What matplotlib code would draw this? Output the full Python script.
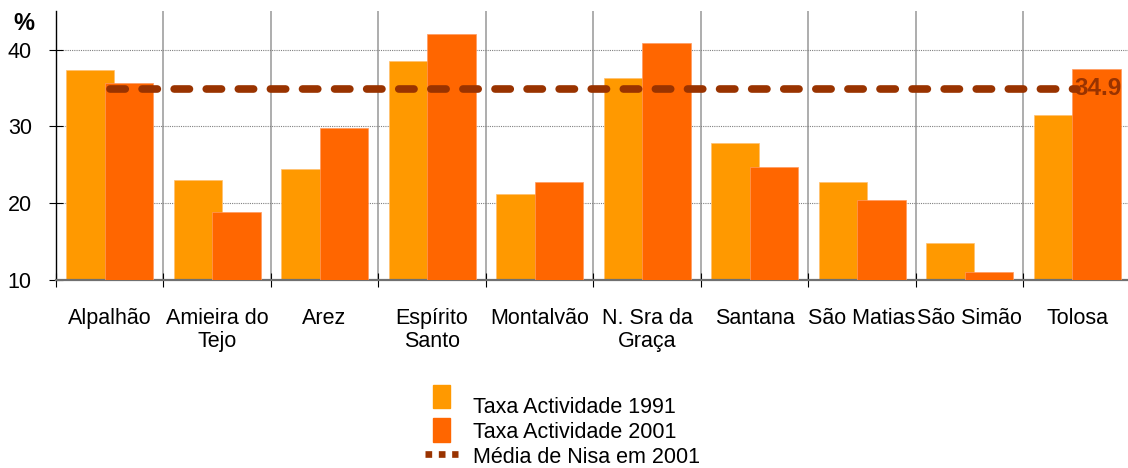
import matplotlib
matplotlib.use("Agg")
import matplotlib.pyplot as plt
from matplotlib.patches import Patch, Rectangle
from matplotlib.lines import Line2D
from matplotlib.legend_handler import HandlerPatch
import numpy as np

categories = ["Alpalhão", "Amieira do\nTejo", "Arez", "Espírito\nSanto", "Montalvão",
              "N. Sra da\nGraça", "Santana", "São Matias", "São Simão", "Tolosa"]
taxa_1991 = [37.3, 23.0, 24.4, 38.5, 21.2, 36.3, 27.8, 22.8, 14.8, 31.5]
taxa_2001 = [35.6, 18.8, 29.8, 42.0, 22.8, 40.9, 24.7, 20.4, 11.0, 37.5]
media_nisa = 34.9
yticks = [10, 20, 30, 40]
labels = ["Taxa Actividade 1991", "Taxa Actividade 2001", "Média de Nisa em 2001"]

C1991 = "#FF9900"
C2001 = "#FF6600"
CLINE = "#993300"

plt.rcParams["font.family"] = ["Liberation Sans", "DejaVu Sans"]
FS = 15.5

W, H = 1128, 468
fig = plt.figure(figsize=(W / 100, H / 100), dpi=100)
left, right, bottom, top = 55.8, 1130.8, 280, 11.2
ax = fig.add_axes([left / W, 1 - bottom / H, (right - left) / W, (bottom - top) / H])

x = np.arange(len(categories))
bw = 0.45
ax.bar(x - 0.18, taxa_1991, width=bw, bottom=0, color=C1991, zorder=2,
       edgecolor="#FFC070", linewidth=0.5)
ax.bar(x + 0.18, taxa_2001, width=bw, bottom=0, color=C2001, zorder=3,
       edgecolor="#FF9A60", linewidth=0.5)

ax.plot(x, [media_nisa] * len(x), color=CLINE, lw=5.5, dashes=(2.0, 2.2),
        dash_capstyle="round", zorder=4)
ax.annotate(f"{media_nisa:.1f}", xy=(x[-1], media_nisa), xytext=(-1.5, 0),
            textcoords="offset points", ha="left", va="center",
            fontsize=17.5, fontweight="bold", color=CLINE, zorder=5)

ax.set_xlim(-0.5, len(categories) - 0.5)
ax.set_ylim(10, 45)
ax.set_yticks(yticks)
ax.set_xticks(x)
ax.set_xticklabels(categories, fontsize=FS, linespacing=1.12)
ax.set_xticks(np.arange(len(categories) + 1) - 0.5, minor=True)
ax.tick_params(axis="x", which="major", length=0, pad=20)
ax.tick_params(axis="x", which="minor", direction="inout", length=9.4, width=0.8,
               color="black")
ax.tick_params(axis="y", direction="inout", length=9.4, width=0.8, pad=12.6,
               labelsize=FS)

ax.grid(axis="y", which="major", color="#808080", linestyle=(0, (1, 1)), lw=0.8)
ax.grid(axis="x", which="minor", color="#A0A0A0", linestyle="-", lw=1.2)
ax.set_axisbelow(True)

for s in ["top", "right"]:
    ax.spines[s].set_visible(False)
ax.spines["left"].set_color("black")
ax.spines["left"].set_linewidth(1.0)
ax.spines["bottom"].set_color("#707070")
ax.spines["bottom"].set_linewidth(1.6)

fig.text(23.5 / W, 1 - 24 / H, "%", fontsize=17, fontweight="bold",
         ha="center", va="center")


def make_patch_func(dy_px):
    def f(legend, orig_handle, xdescent, ydescent, width, height, fontsize):
        w = 17.0 * 0.72
        h = 23.5 * 0.72
        return Rectangle((-xdescent + (width - w) / 2,
                          -ydescent + (height - h) / 2 + dy_px * 0.72), w, h)
    return f


h1 = Patch(color=C1991)
h2 = Patch(color=C2001)
h3 = Line2D([], [], color=CLINE, lw=4.8, dashes=(1, 1), dash_capstyle="butt")
leg = fig.legend([h1, h2, h3], labels, loc="upper left",
                 bbox_to_anchor=(425 / W, 1 - 395.5 / H), frameon=False,
                 fontsize=FS, handlelength=1.55, handleheight=1.0,
                 handletextpad=0.68, labelspacing=0.14, borderpad=0, borderaxespad=0,
                 handler_map={h1: HandlerPatch(patch_func=make_patch_func(8.5)),
                              h2: HandlerPatch(patch_func=make_patch_func(0))})

fig.savefig("out.png", dpi=100)
